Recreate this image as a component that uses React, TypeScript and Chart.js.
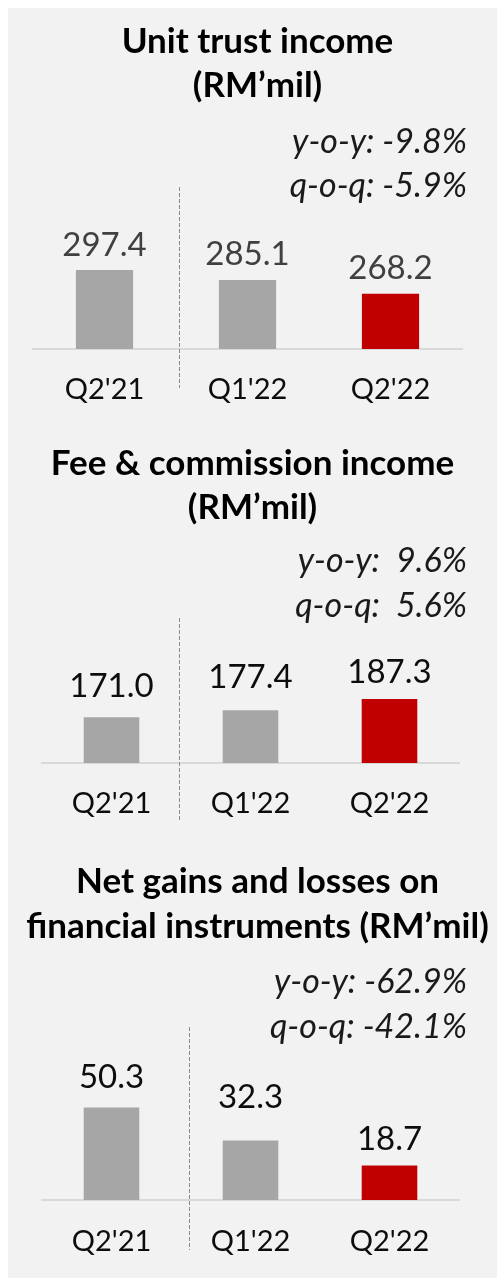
import React, { useEffect, useRef } from "react";
import { Chart, registerables } from "chart.js";

Chart.register(...registerables);

// ---------- data ----------
const categories = ["Q2'21", "Q1'22", "Q2'22"];

const unitTrustIncome = [297.4, 285.1, 268.2];
const feeCommissionIncome = [171.0, 177.4, 187.3];
const netGainsLosses = [50.3, 32.3, 18.7];

const unitTrustTitle = ["Unit trust income", "(RM’mil)"];
const feeCommissionTitle = ["Fee & commission income", "(RM’mil)"];
const netGainsTitle = ["Net gains and losses on", "financial instruments (RM’mil)"];

const unitTrustChange = ["y-o-y: -9.8%", "q-o-q: -5.9%"];
const feeCommissionChange = ["y-o-y:  9.6%", "q-o-q:  5.6%"];
const netGainsChange = ["y-o-y: -62.9%", "q-o-q: -42.1%"];

// ---------- styles ----------
const FONT = "Lato, 'Open Sans', sans-serif";
const BAR_COLORS = ["#a6a6a6", "#a6a6a6", "#c00000"];
const PANEL_BG = "#f2f2f2";
const WIDTH = 489;

type PanelCfg = {
  title: string[];
  values: number[];
  change: string[];
  top: number;
  height: number;
  yMin: number;
  yMax: number;
  padLeft: number;
  padRight: number;
  padTop: number;
  scaleHeight: number;
  tickPadding: number;
  titleX: number;
  titleY: number[];
  changeX: number;
  changeY: number[];
  dividerAt: number;
  dividerEnd: number;
  labelGaps: number[];
  labelColor: string;
};

const panels: PanelCfg[] = [
  {
    title: unitTrustTitle,
    values: unitTrustIncome,
    change: unitTrustChange,
    top: 0,
    height: 412,
    yMin: 200,
    yMax: 400,
    padLeft: 25,
    padRight: 35,
    padTop: 179,
    scaleHeight: 71,
    tickPadding: 23,
    titleX: 249.5,
    titleY: [45, 89],
    changeX: 459,
    changeY: [145, 189],
    dividerAt: 0.524,
    dividerEnd: 380,
    labelGaps: [14, 15, 15],
    labelColor: "#404040",
  },
  {
    title: feeCommissionTitle,
    values: feeCommissionIncome,
    change: feeCommissionChange,
    top: 412,
    height: 400,
    yMin: 130,
    yMax: 260,
    padLeft: 34,
    padRight: 38,
    padTop: 198,
    scaleHeight: 57,
    tickPadding: 23,
    titleX: 244.5,
    titleY: [55, 99],
    changeX: 459,
    changeY: [152, 197],
    dividerAt: 0.486,
    dividerEnd: 400,
    labelGaps: [20, 22, 16],
    labelColor: "#0d0d0d",
  },
  {
    title: netGainsTitle,
    values: netGainsLosses,
    change: netGainsChange,
    top: 812,
    height: 458,
    yMin: 0,
    yMax: 94,
    padLeft: 34,
    padRight: 38,
    padTop: 207,
    scaleHeight: 78,
    tickPadding: 24,
    titleX: 249.5,
    titleY: [73, 118],
    changeX: 459,
    changeY: [173, 218],
    dividerAt: 0.558,
    dividerEnd: 430,
    labelGaps: [19, 33, 16],
    labelColor: "#0d0d0d",
  },
];

function makeOverlay(cfg: PanelCfg) {
  return {
    id: "overlay",
    afterDatasetsDraw(chart: any) {
      const ctx = chart.ctx as CanvasRenderingContext2D;
      const xScale = chart.scales.x;
      const area = chart.chartArea;
      ctx.save();
      // dashed divider
      const dx = Math.round(xScale.getPixelForValue(cfg.dividerAt)) + 0.5;
      ctx.strokeStyle = "#8c8c8c";
      ctx.lineWidth = 1;
      ctx.setLineDash([4, 2]);
      ctx.beginPath();
      ctx.moveTo(dx, area.top);
      ctx.lineTo(dx, cfg.dividerEnd);
      ctx.stroke();
      ctx.setLineDash([]);

      // value labels
      const meta = chart.getDatasetMeta(0);
      ctx.font = `400 33px ${FONT}`;
      ctx.fillStyle = cfg.labelColor;
      ctx.textAlign = "center";
      ctx.textBaseline = "alphabetic";
      meta.data.forEach((bar: any, i: number) => {
        const v = cfg.values[i];
        ctx.fillText(v.toFixed(1), bar.x, bar.y - cfg.labelGaps[i]);
      });

      // title
      ctx.font = `700 35px ${FONT}`;
      ctx.fillStyle = "#000000";
      cfg.title.forEach((line, i) => {
        ctx.fillText(line, cfg.titleX, cfg.titleY[i]);
      });

      // change text
      ctx.font = `italic 400 34px ${FONT}`;
      ctx.fillStyle = "#1a1a1a";
      ctx.textAlign = "right";
      cfg.change.forEach((line, i) => {
        ctx.fillText(line, cfg.changeX, cfg.changeY[i]);
      });
      ctx.restore();
    },
  };
}

function PanelChart({ cfg }: { cfg: PanelCfg }) {
  const ref = useRef<HTMLCanvasElement | null>(null);
  useEffect(() => {
    if (!ref.current) return;
    const chart = new Chart(ref.current, {
      type: "bar",
      data: {
        labels: categories,
        datasets: [
          {
            data: cfg.values,
            backgroundColor: BAR_COLORS,
            borderWidth: 0,
            barPercentage: 0.4,
            categoryPercentage: 1,
          },
        ],
      },
      options: {
        responsive: false,
        animation: false,
        devicePixelRatio: 1,
        layout: {
          padding: { left: cfg.padLeft, right: cfg.padRight, top: cfg.padTop, bottom: 0 },
        },
        plugins: {
          legend: { display: false },
          title: { display: false },
          tooltip: { enabled: false },
        },
        scales: {
          x: {
            grid: { display: false, drawTicks: false },
            border: { display: true, color: "#d9d9d9", width: 2 },
            ticks: {
              padding: cfg.tickPadding,
              color: "#0d0d0d",
              font: { family: FONT, size: 29, weight: "400" },
              maxRotation: 0,
            },
            afterFit: (scale: any) => {
              scale.height = cfg.scaleHeight;
            },
          },
          y: {
            display: false,
            min: cfg.yMin,
            max: cfg.yMax,
          },
        },
      },
      plugins: [makeOverlay(cfg)],
    });
    return () => chart.destroy();
  }, [cfg]);
  return (
    <canvas
      ref={ref}
      width={WIDTH}
      height={cfg.height}
      style={{ position: "absolute", left: 0, top: cfg.top, width: WIDTH, height: cfg.height }}
    />
  );
}

export default function App() {
  return (
    <div
      style={{
        position: "absolute",
        left: 8,
        top: 8,
        width: WIDTH,
        height: 1270,
        background: PANEL_BG,
      }}
    >
      {panels.map((p, i) => (
        <PanelChart key={i} cfg={p} />
      ))}
    </div>
  );
}
